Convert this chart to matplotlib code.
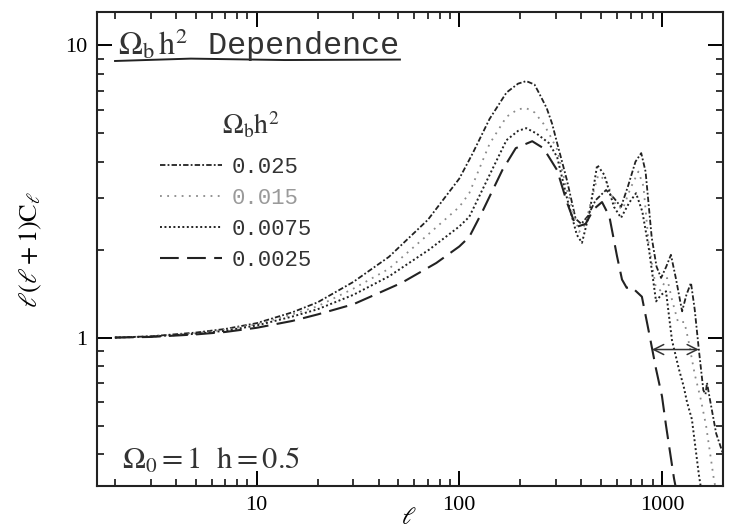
import matplotlib
matplotlib.use("Agg")
import matplotlib.pyplot as plt

plt.rcParams['mathtext.fontset'] = 'stix'

# values: multipole l and l(l+1)C_l for each baryon density
l_025 = [2, 3, 5, 7, 10, 15, 20, 30, 45, 70, 100, 116, 141, 171, 195, 214, 235, 248, 270, 287, 304,
         340, 375, 400, 430, 470, 530, 580, 628, 680, 740, 790, 830, 890, 940, 990, 1050, 1107, 1170,
         1257, 1320, 1390, 1450, 1520, 1600, 1640, 1668, 1720, 1850, 2000]
c_025 = [1.0, 1.01, 1.04, 1.07, 1.12, 1.22, 1.32, 1.55, 1.89, 2.53, 3.5, 4.25, 5.6, 6.9, 7.4, 7.55, 7.35,
         6.85, 6.1, 5.4, 4.63, 3.45, 2.55, 2.45, 2.6, 2.95, 3.2, 3.0, 2.8, 3.3, 4.0, 4.28, 3.7, 2.2, 1.75,
         1.6, 1.75, 1.92, 1.6, 1.23, 1.4, 1.54, 1.25, 0.91, 0.66, 0.64, 0.70, 0.62, 0.47, 0.40]

l_015 = [2, 3, 5, 7, 10, 15, 20, 30, 45, 70, 100, 112, 141, 171, 195, 214, 235, 260, 277, 304, 340,
         390, 420, 450, 485, 530, 590, 640, 700, 765, 810, 860, 930, 980, 1060, 1120, 1200, 1290, 1350,
         1450, 1550, 1650, 1800, 1900]
c_015 = [1.0, 1.01, 1.035, 1.065, 1.11, 1.2, 1.28, 1.47, 1.72, 2.25, 2.8, 3.12, 4.6, 5.7, 6.05, 6.1, 5.9,
         5.4, 5.0, 4.4, 3.2, 2.3, 2.45, 3.0, 3.6, 3.45, 2.85, 2.75, 3.25, 3.7, 3.3, 2.1, 1.5, 1.45, 1.6,
         1.35, 1.13, 1.13, 0.98, 0.75, 0.62, 0.5, 0.33, 0.27]

l_0075 = [2, 3, 5, 7, 10, 15, 20, 30, 45, 71, 100, 112, 141, 171, 195, 214, 240, 277, 304, 340, 380,
          403, 440, 479, 520, 580, 628, 690, 745, 800, 864, 935, 990, 1047, 1120, 1212, 1280, 1330, 1405,
          1520, 1600]
c_0075 = [1.0, 1.008, 1.03, 1.055, 1.10, 1.18, 1.25, 1.40, 1.62, 2.0, 2.4, 2.59, 3.6, 4.74, 5.1, 5.21,
          5.0, 4.63, 4.15, 3.0, 2.25, 2.11, 2.7, 3.9, 3.6, 2.8, 2.57, 2.9, 3.12, 2.7, 1.99, 1.33, 1.4,
          1.44, 0.98, 0.78, 0.68, 0.6, 0.525, 0.34, 0.27]

l_0025 = [2, 3, 5, 7, 10, 15, 20, 30, 40, 52, 77, 100, 112, 130, 163, 190, 229, 260, 277, 304, 340,
          377, 420, 460, 506, 550, 600, 635, 670, 700, 730, 796, 863, 935, 1000, 1047, 1146, 1200]
c_0025 = [1.0, 1.005, 1.025, 1.045, 1.08, 1.14, 1.2, 1.3, 1.42, 1.54, 1.80, 2.05, 2.21, 2.7, 3.74, 4.45,
          4.7, 4.45, 4.15, 3.74, 2.9, 2.39, 2.45, 2.75, 2.91, 2.6, 1.9, 1.58, 1.48, 1.49, 1.46, 1.38,
          1.04, 0.78, 0.63, 0.50, 0.33, 0.28]

labels = ["0.025", "0.015", "0.0075", "0.0025"]

# double arrow marking the shift of the damping tail
arrow_l = [893, 1520]
arrow_c = 0.91

fig = plt.figure(figsize=(7.34, 5.29), dpi=100)
ax = fig.add_axes([0.132, 0.081, 0.853, 0.896])

h1, = ax.plot(l_025, c_025, color='#222222', lw=1.3, ls=(0, (3, 1.2, 1, 1.2)))
h2, = ax.plot(l_015, c_015, color='#8a8a8a', lw=1.3, ls=(0, (1, 3)))
h3, = ax.plot(l_0075, c_0075, color='#222222', lw=1.4, ls=(0, (1, 1.3)))
h4, = ax.plot(l_0025, c_0025, color='#222222', lw=1.5, ls=(0, (9, 4)))

ax.annotate('', xy=(arrow_l[0], arrow_c), xytext=(arrow_l[1], arrow_c),
            arrowprops=dict(arrowstyle='<->', color='#333333', lw=1.1, shrinkA=0, shrinkB=0,
                            mutation_scale=18))

ax.set_xscale('log')
ax.set_yscale('log')
ax.set_xlim(1.63, 2000)
ax.set_ylim(0.31, 13)

ax.set_xticks([10, 100, 1000])
ax.set_xticklabels(['10', '100', '1000'])
ax.set_yticks([1, 10])
ax.set_yticklabels(['1', '10'])
ax.tick_params(which='both', direction='in', top=True, right=True, labelsize=16, pad=7)
ax.tick_params(which='major', length=11, width=1.4)
ax.tick_params(which='minor', length=5, width=1.1)
for lab in ax.get_xticklabels() + ax.get_yticklabels():
    lab.set_fontfamily('Liberation Serif')
for s in ax.spines.values():
    s.set_linewidth(1.5)
    s.set_color('#222222')

ax.set_ylabel(r'$\ell(\ell+1)\mathrm{C}_\ell$', fontsize=19, labelpad=15)
fig.text(0.557, 0.0, r'$\ell$', fontsize=17, ha='center', va='bottom')

# title with hand drawn underline
ax.text(0.034, 0.930, r'$\Omega_{\rm b}\,{\rm h}^2$ Dependence', transform=ax.transAxes,
        family='Liberation Mono', fontsize=23, va='center', color='#333333')
ax.plot([0.029, 0.15, 0.3, 0.484], [0.897, 0.902, 0.899, 0.900], transform=ax.transAxes,
        color='#222222', lw=1.4)

# legend
ax.text(0.2, 0.762, r'$\Omega_{\rm b}{\rm h}^2$', transform=ax.transAxes,
        fontsize=20, va='center', color='#333333')
leg = ax.legend([h1, h2, h3, h4], labels, loc='upper left', bbox_to_anchor=(0.1006, 0.694),
                frameon=False, borderpad=0, borderaxespad=0, handlelength=2.8, handletextpad=0.45,
                labelspacing=0.44, prop={'family': 'Liberation Mono', 'size': 16})
for t, c in zip(leg.get_texts(), ['#333333', '#9a9a9a', '#333333', '#333333']):
    t.set_color(c)

ax.text(0.04, 0.055, r'$\Omega_0{\rm =1\ \ h=0.5}$', transform=ax.transAxes,
        fontsize=22, va='center', color='#333333')

fig.savefig('out.png', dpi=100)
